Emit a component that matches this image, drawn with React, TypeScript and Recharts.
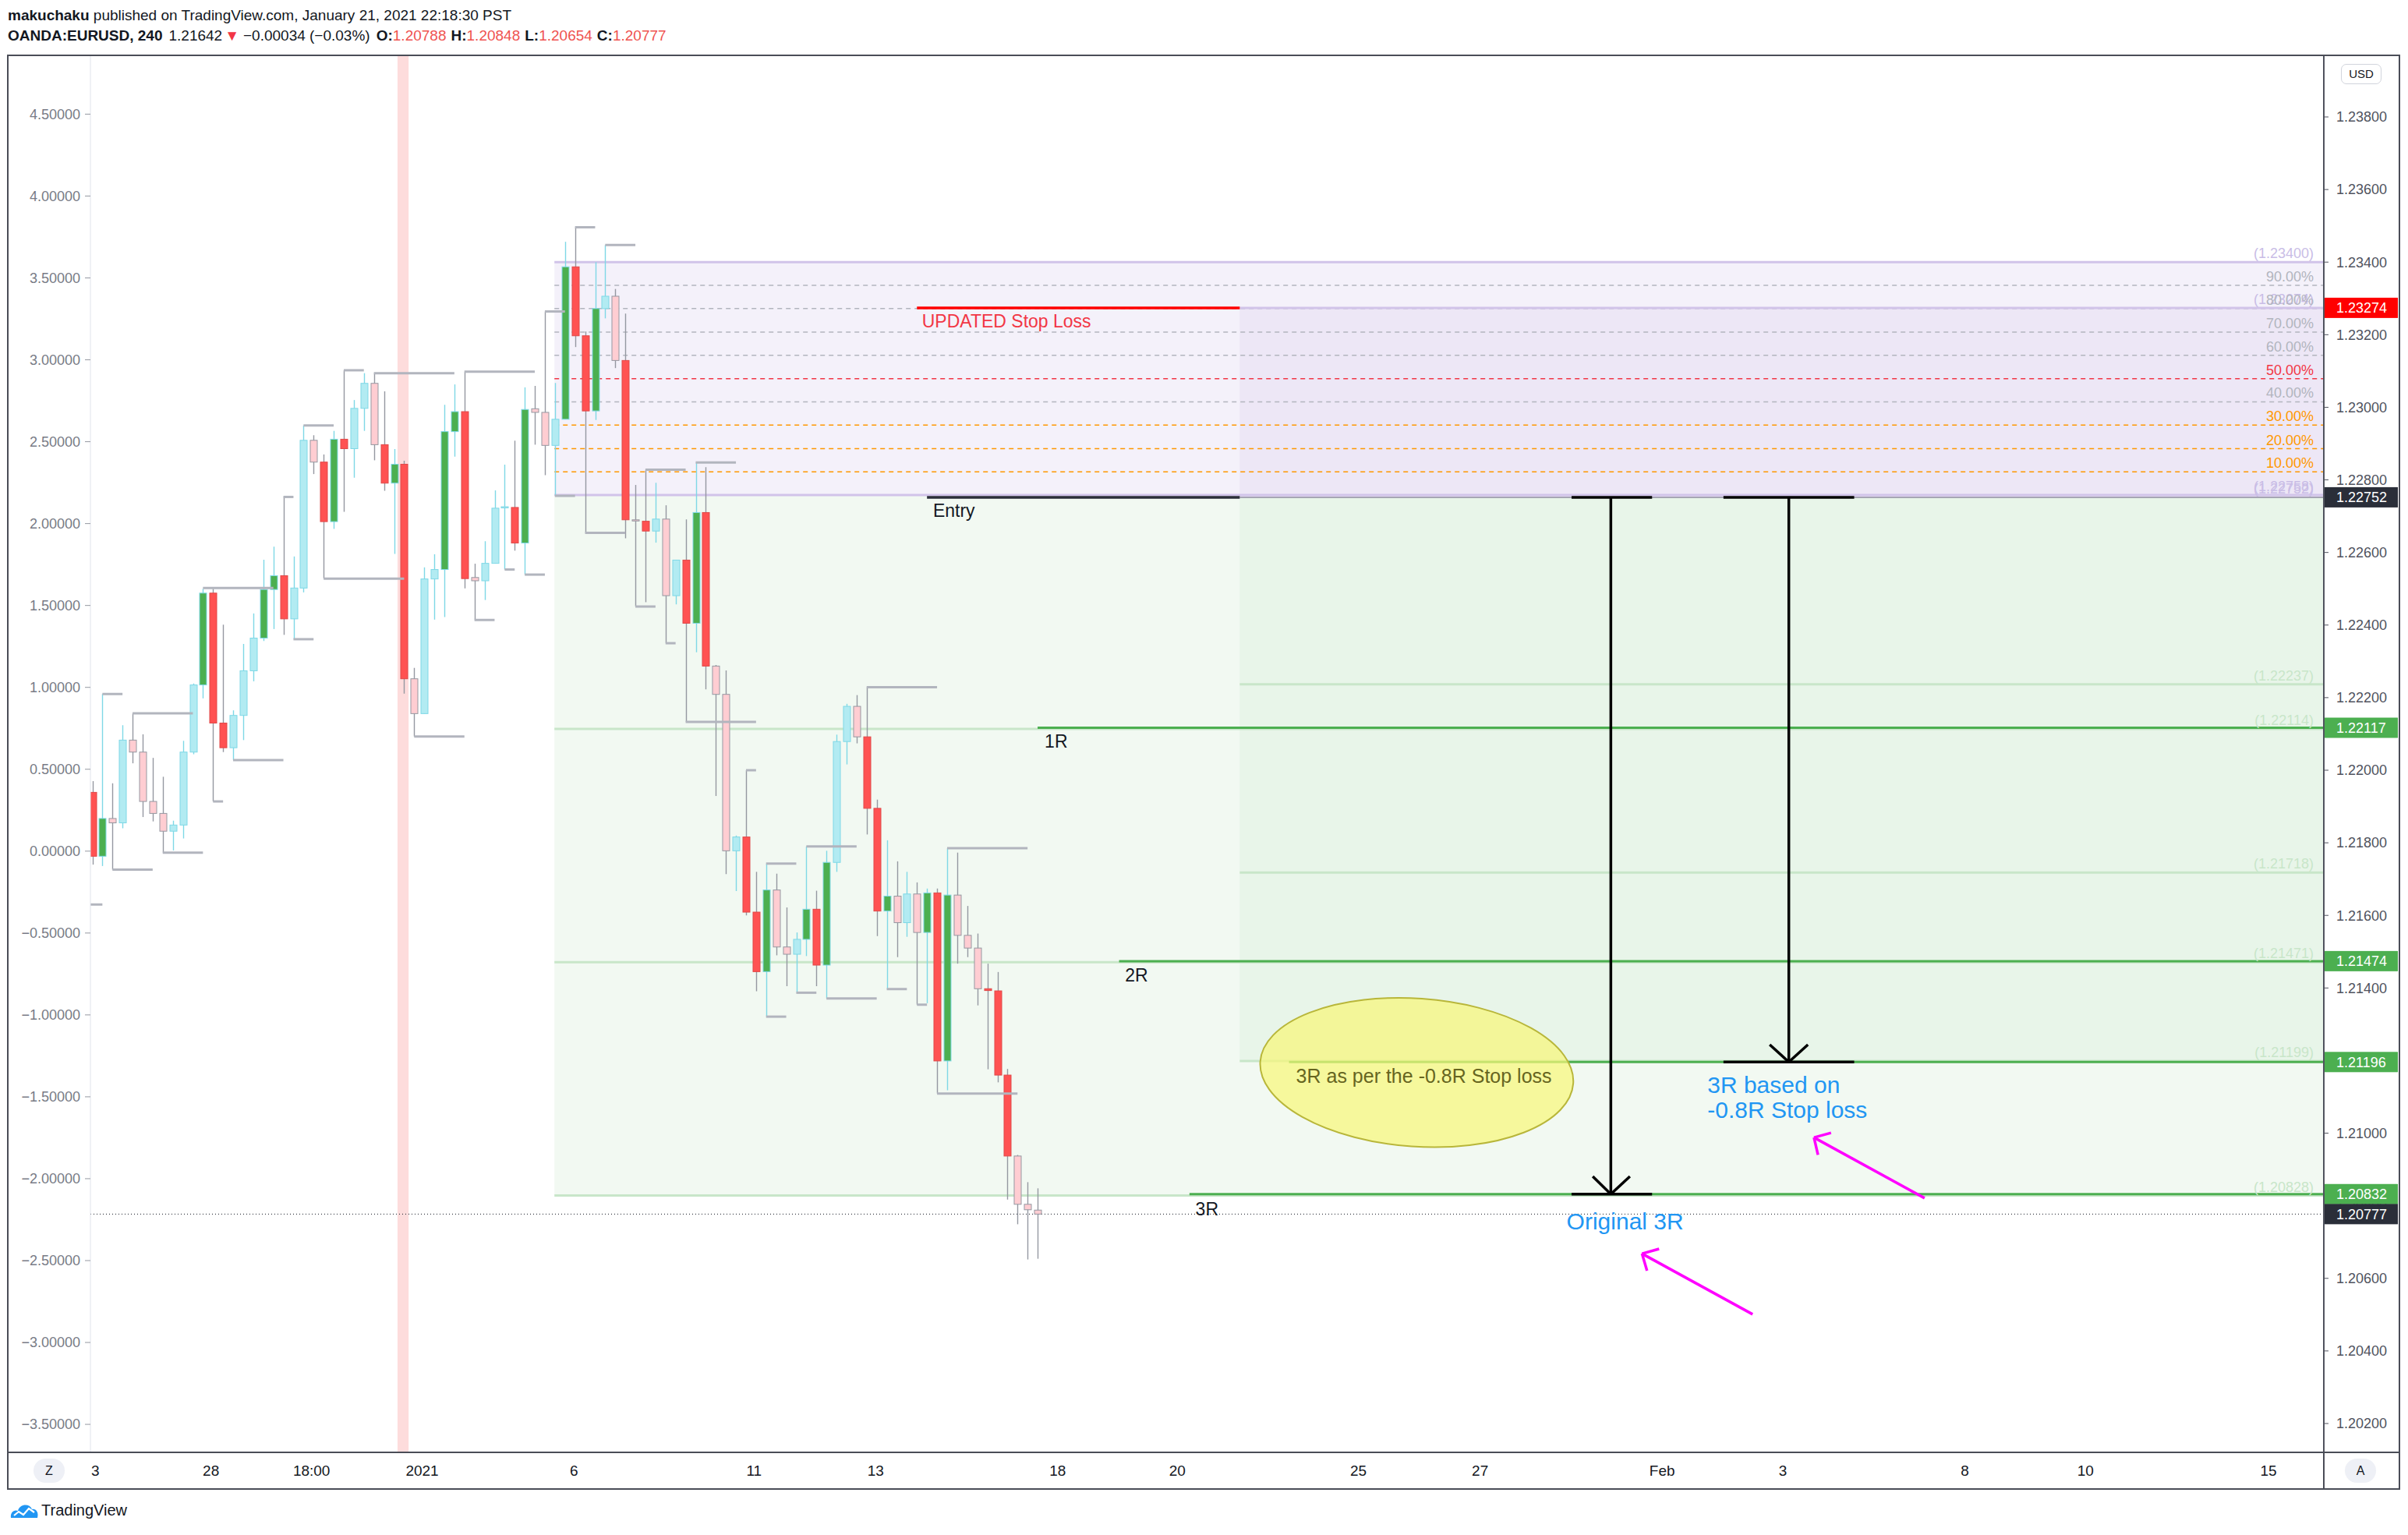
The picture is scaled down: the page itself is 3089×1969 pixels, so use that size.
import React from 'react'
import { ComposedChart, Bar, XAxis, YAxis, ReferenceLine, ReferenceArea, ReferenceDot } from 'recharts'

// 4h EURUSD candles
const opens = [
  1.21939, 1.21763, 1.21867, 1.21855, 1.22083, 1.22050, 1.21914, 1.21881, 1.21832, 1.21849,
  1.22050, 1.22235, 1.22488, 1.22130, 1.22062, 1.22151, 1.22274, 1.22364, 1.22498, 1.22536,
  1.22417, 1.22502, 1.22909, 1.22849, 1.22685, 1.22912, 1.22886, 1.22997, 1.23066, 1.22897,
  1.22791, 1.22843, 1.22252, 1.22156, 1.22527, 1.22553, 1.22933, 1.22988, 1.22531, 1.22522,
  1.22570, 1.22723, 1.22724, 1.22626, 1.22996, 1.22986, 1.22895, 1.22967, 1.23387, 1.23197,
  1.22990, 1.23272, 1.23306, 1.23129, 1.22690, 1.22686, 1.22659, 1.22692, 1.22481, 1.22579,
  1.22405, 1.22710, 1.22287, 1.22209, 1.21778, 1.21816, 1.21609, 1.21445, 1.21670, 1.21513,
  1.21493, 1.21534, 1.21617, 1.21463, 1.21746, 1.22079, 1.22176, 1.22092, 1.21895, 1.21612,
  1.21653, 1.21580, 1.21659, 1.21553, 1.21662, 1.21199, 1.21656, 1.21545, 1.21510, 1.21398,
  1.21392, 1.21160, 1.20937, 1.20804, 1.20788,
]
const highs = [
  1.21970, 1.22210, 1.21964, 1.22124, 1.22157, 1.22099, 1.22034, 1.21982, 1.21861, 1.22081,
  1.22239, 1.22500, 1.22500, 1.22401, 1.22165, 1.22348, 1.22432, 1.22580, 1.22616, 1.22753,
  1.22589, 1.22950, 1.22923, 1.22870, 1.22935, 1.23102, 1.23020, 1.23094, 1.23094, 1.23044,
  1.22885, 1.22853, 1.22282, 1.22559, 1.22595, 1.23007, 1.23063, 1.23098, 1.22569, 1.22631,
  1.22771, 1.22842, 1.22908, 1.23055, 1.23059, 1.23264, 1.23067, 1.23456, 1.23496, 1.23209,
  1.23400, 1.23447, 1.23326, 1.23258, 1.22786, 1.22828, 1.22792, 1.22730, 1.22579, 1.22691,
  1.22848, 1.22835, 1.22290, 1.22275, 1.21820, 1.22000, 1.21720, 1.21743, 1.21715, 1.21622,
  1.21553, 1.21790, 1.21668, 1.21778, 1.22098, 1.22183, 1.22207, 1.22229, 1.21919, 1.21807,
  1.21749, 1.21720, 1.21691, 1.21674, 1.21674, 1.21785, 1.21773, 1.21626, 1.21550, 1.21467,
  1.21444, 1.21177, 1.20940, 1.20865, 1.20848,
]
const lows = [
  1.21740, 1.21736, 1.21726, 1.21840, 1.22019, 1.21871, 1.21859, 1.21773, 1.21779, 1.21812,
  1.22044, 1.22198, 1.21914, 1.22050, 1.22028, 1.22083, 1.22245, 1.22356, 1.22389, 1.22373,
  1.22361, 1.22490, 1.22816, 1.22528, 1.22665, 1.22712, 1.22806, 1.22935, 1.22854, 1.22770,
  1.22596, 1.22211, 1.22093, 1.22156, 1.22415, 1.22422, 1.22864, 1.22501, 1.22414, 1.22469,
  1.22570, 1.22553, 1.22605, 1.22539, 1.22897, 1.22813, 1.22756, 1.22967, 1.23166, 1.22654,
  1.22965, 1.23245, 1.23108, 1.22639, 1.22451, 1.22463, 1.22627, 1.22350, 1.22457, 1.22133,
  1.22325, 1.22223, 1.21929, 1.21714, 1.21667, 1.21600, 1.21391, 1.21321, 1.21490, 1.21405,
  1.21387, 1.21488, 1.21405, 1.21371, 1.21720, 1.22016, 1.22074, 1.21823, 1.21543, 1.21397,
  1.21485, 1.21541, 1.21354, 1.21358, 1.21109, 1.21118, 1.21467, 1.21485, 1.21352, 1.21176,
  1.21140, 1.20817, 1.20749, 1.20652, 1.20654,
]
const closes = [
  1.21763, 1.21867, 1.21855, 1.22083, 1.22050, 1.21914, 1.21881, 1.21832, 1.21849, 1.22050,
  1.22235, 1.22488, 1.22130, 1.22062, 1.22151, 1.22274, 1.22364, 1.22498, 1.22536, 1.22417,
  1.22502, 1.22909, 1.22849, 1.22685, 1.22912, 1.22886, 1.22997, 1.23066, 1.22897, 1.22791,
  1.22843, 1.22252, 1.22156, 1.22527, 1.22553, 1.22933, 1.22988, 1.22528, 1.22522, 1.22570,
  1.22722, 1.22726, 1.22626, 1.22994, 1.22986, 1.22895, 1.22967, 1.23387, 1.23197, 1.22990,
  1.23272, 1.23306, 1.23129, 1.22690, 1.22687, 1.22659, 1.22692, 1.22481, 1.22579, 1.22405,
  1.22710, 1.22287, 1.22209, 1.21778, 1.21816, 1.21609, 1.21445, 1.21670, 1.21513, 1.21493,
  1.21534, 1.21617, 1.21463, 1.21746, 1.22079, 1.22176, 1.22092, 1.21895, 1.21612, 1.21653,
  1.21580, 1.21659, 1.21553, 1.21662, 1.21199, 1.21656, 1.21545, 1.21510, 1.21398, 1.21393,
  1.21160, 1.20937, 1.20804, 1.20789, 1.20777,
]
// 1 = solid green/red candle, 0 = pale cyan/pink candle
const strong = [
  1, 1, 0, 0, 0, 0, 0, 0, 0, 0, 0, 1, 1, 1, 0, 0, 0, 1, 1, 1,
  0, 0, 0, 1, 1, 1, 0, 0, 0, 1, 1, 1, 0, 0, 0, 1, 1, 1, 0, 0,
  0, 0, 1, 1, 0, 0, 0, 1, 1, 1, 1, 0, 0, 1, 0, 1, 0, 0, 0, 1,
  1, 1, 0, 0, 0, 1, 1, 1, 0, 0, 0, 1, 1, 1, 0, 0, 0, 1, 1, 1,
  0, 0, 0, 1, 1, 1, 0, 0, 0, 1, 1, 1, 0, 0, 0,
]

// gray pivot levels: [from bar, to bar, price]
const pivots: [number, number, number][] = [
  [-0.19, 1, 1.21630], [1, 3, 1.22210], [2, 6, 1.21726], [4, 10, 1.22157], [7, 11, 1.21773],
  [11, 18, 1.22502], [12, 13, 1.21914], [14, 19, 1.22028], [19, 20, 1.22753], [20, 22, 1.22361],
  [21, 24, 1.22950], [23, 31, 1.22528], [25, 27, 1.23102], [28, 36, 1.23094], [32, 37, 1.22093],
  [37, 44, 1.23098], [38, 40, 1.22414], [41, 42, 1.22553], [43, 45, 1.22539], [45, 47, 1.23264],
  [46, 48, 1.22756], [48, 50, 1.23496], [49, 53, 1.22654], [51, 54, 1.23447], [54, 56, 1.22451],
  [55, 59, 1.22828], [57, 58, 1.22350], [59, 66, 1.22133], [60, 64, 1.22848], [65, 66, 1.22000],
  [67, 70, 1.21743], [67, 69, 1.21321], [70, 72, 1.21387], [71, 76, 1.21790], [73, 78, 1.21371],
  [77, 84, 1.22229], [79, 81, 1.21397], [82, 83, 1.21354], [84, 92, 1.21109], [85, 93, 1.21785],
]

const priceTicks = [
  1.202, 1.204, 1.206, 1.208, 1.21, 1.212, 1.214, 1.216, 1.218, 1.22,
  1.222, 1.224, 1.226, 1.228, 1.23, 1.232, 1.234, 1.236, 1.238,
]
const leftTicks = [-3.5, -3, -2.5, -2, -1.5, -1, -0.5, 0, 0.5, 1, 1.5, 2, 2.5, 3, 3.5, 4, 4.5]
const timeTickPos = [0.3, 11.8, 21.8, 32.8, 47.9, 65.8, 77.9, 96.0, 107.9, 125.9, 138.0, 156.1, 168.1, 186.2, 198.2, 216.4]
const timeLabels = ['3', '28', '18:00', '2021', '6', '11', '13', '18', '20', '25', '27', 'Feb', '3', '8', '10', '15']

// price tags on the right scale
const tagPrices = [1.23274, 1.22752, 1.22117, 1.21474, 1.21196, 1.20832, 1.20777]
const tagColors = ['#ff0000', '#2a2e39', '#4caf50', '#4caf50', '#4caf50', '#4caf50', '#2a2e39']

// drawings
const X_MAX = 221.9
const holidayBand = [30.35, 31.45]
const fibFrom = 45.95
const fibTop = 1.234
const fibBase = 1.22758
const fibTargetLow = 1.20828
const fibLevels = [1.23336, 1.23272, 1.23207, 1.23143, 1.23079, 1.23015, 1.22951, 1.22886, 1.22822]
const fibLevelColors = ['#b2b5be', '#b2b5be', '#b2b5be', '#b2b5be', '#f23645', '#b2b5be', '#ff9800', '#ff9800', '#ff9800']
const posFrom = 114.1
const posStop = 1.23274
const posEntry = 1.22752
const posTarget = 1.21199
const rLineFrom = [94.0, 102.1, 109.1, 119.0]
const rLinePrice = [1.22117, 1.21474, 1.20832, 1.21196]
const paleLineFrom = [45.95, 45.95, 45.95, 114.1, 114.1, 114.1]
const paleLinePrice = [1.22114, 1.21471, 1.20828, 1.22237, 1.21718, 1.21199]
const stopLine: [number, number, number] = [82.0, 114.1, 1.23274]
const entryLine: [number, number, number] = [83.0, 114.1, 1.22752]
const lastPrice = 1.20777

const edgeText = ['(1.23400)', '90.00%', '(1.23274)', '80.00%', '70.00%', '60.00%', '50.00%', '40.00%', '30.00%', '20.00%', '10.00%', '(1.22758)', '(1.22752)', '(1.22237)', '(1.22114)', '(1.21718)', '(1.21471)', '(1.21199)', '(1.20828)']
const edgePrice = [1.234, 1.23336, 1.23274, 1.23272, 1.23207, 1.23143, 1.23079, 1.23015, 1.22951, 1.22886, 1.22822, 1.22758, 1.22752, 1.22237, 1.22114, 1.21718, 1.21471, 1.21199, 1.20828]
const edgeColor = ['#c9bde6', '#b2b5be', '#c9bde6', '#b2b5be', '#b2b5be', '#b2b5be', '#f23645', '#b2b5be', '#ff9800', '#ff9800', '#ff9800', '#c9bde6', '#c9bde6', '#c8e6c9', '#c8e6c9', '#c8e6c9', '#c8e6c9', '#c8e6c9', '#c8e6c9']

const noteText = ['UPDATED Stop Loss', 'Entry', '1R', '2R', '3R', '3R as per the -0.8R Stop loss', '3R based on', '-0.8R Stop loss', 'Original 3R']
const noteBar = [82.5, 83.6, 94.7, 102.7, 109.7, 119.7, 160.6, 160.6, 146.6]
const notePrice = [1.2322, 1.22698, 1.22062, 1.21418, 1.20773, 1.21139, 1.21111, 1.21042, 1.20735]
const noteColor = ['#f23645', '#131722', '#131722', '#131722', '#131722', '#66651f', '#2196f3', '#2196f3', '#2196f3']
const noteSize = [23, 23, 23, 23, 23, 25, 30, 30, 30]

const ellipseBox = { x1: 116.1, x2: 147.3, y1: 1.20963, y2: 1.21371 }

const blackArrows: [number, number, number, number][] = [
  [151.0, 1.22752, 151.0, 1.20832], [147.1, 1.22752, 155.1, 1.22752], [147.1, 1.20832, 155.1, 1.20832],
  [149.2, 1.20881, 151.0, 1.20832], [152.9, 1.20881, 151.0, 1.20832],
  [168.7, 1.22752, 168.7, 1.21196], [162.2, 1.22752, 175.2, 1.22752], [162.2, 1.21196, 175.2, 1.21196],
  [166.8, 1.21244, 168.7, 1.21196], [170.6, 1.21244, 168.7, 1.21196],
]
const pinkArrows: [number, number, number, number][] = [
  [182.2, 1.20821, 171.2, 1.20988], [172.9, 1.21001, 171.2, 1.20988], [171.6, 1.2094, 171.2, 1.20988],
  [165.1, 1.20501, 154.1, 1.20668], [155.8, 1.20681, 154.1, 1.20668], [154.6, 1.20621, 154.1, 1.20668],
]

const candles = opens.map((o, i) => ({
  i,
  o,
  h: highs[i],
  l: lows[i],
  c: closes[i],
  s: strong[i],
  range: [lows[i], highs[i]],
}))

const FONT = '"Liberation Sans", Arial, Helvetica, sans-serif'
const FRAME = '#4a4d57'

function Candle(props: any) {
  const { x, y, width, height, payload } = props
  if (!payload || height == null) return null
  const { o, h, l, c, s } = payload
  const top = Math.min(y, y + height)
  const k = Math.abs(height) / (h - l)
  const py = (p: number) => top + (h - p) * k
  const cx = Math.round(x + width / 2) + 0.5
  const up = c >= o
  const bt = py(Math.max(o, c))
  const bb = py(Math.min(o, c))
  const fill = up ? (s ? '#4caf50' : '#b2ebf2') : (s ? '#ff5252' : '#ffcdd2')
  const edge = up ? '#7fd8e6' : '#9598a1'
  return (
    <g>
      <line x1={cx} x2={cx} y1={top} y2={top + Math.abs(height)} stroke={edge} strokeWidth={1.4} />
      <rect x={cx - 4.5} y={bt} width={9} height={Math.max(1.5, bb - bt)} fill={fill} stroke={s && !up ? '#e04848' : edge} strokeWidth={1} />
    </g>
  )
}

const LeftTick = (p: any) => (
  <text x={p.x} y={p.y} dy="0.35em" textAnchor="end" fontSize={18} fill="#787b86" fontFamily={FONT}>
    {p.payload.value.toFixed(5).replace('-', '\u2212')}
  </text>
)

const RightTick = (p: any) => {
  const v = p.payload.value
  const k = tagPrices.indexOf(v)
  if (k >= 0) {
    return (
      <g>
        <rect x={p.x - 15} y={p.y - 13} width={94} height={26} fill={tagColors[k]} />
        <text x={p.x} y={p.y} dy="0.35em" fontSize={18} fill="#ffffff" fontFamily={FONT}>{v.toFixed(5)}</text>
      </g>
    )
  }
  return (
    <text x={p.x} y={p.y} dy="0.35em" fontSize={18} fill="#50535e" fontFamily={FONT}>{v.toFixed(5)}</text>
  )
}

const TimeTick = (p: any) => {
  const k = timeTickPos.indexOf(p.payload.value)
  return (
    <text x={p.x} y={p.y + 30} textAnchor="middle" fontSize={19} fill="#131722" fontFamily={FONT}>{timeLabels[k]}</text>
  )
}

const EllipseShape = (p: any) => {
  const cx = p.x + p.width / 2
  const cy = p.y + p.height / 2
  return (
    <ellipse cx={cx} cy={cy} rx={Math.abs(p.width) / 2} ry={Math.abs(p.height) / 2}
      transform={`rotate(4 ${cx} ${cy})`} fill="#f7f77a" fillOpacity={0.72} stroke="#b8b63a" strokeWidth={2} />
  )
}

const textShape = (text: string, color: string, size: number, anchor: string, dx: number, dy: number) => (p: any) => (
  <text x={p.cx + dx} y={p.cy + dy} fill={color} fontSize={size} textAnchor={anchor} fontFamily={FONT}>{text}</text>
)

function seg(key: string, x1: number, y1: number, x2: number, y2: number, stroke: string, w: number, z: number, dash?: string) {
  return (
    <ReferenceLine key={key} yAxisId="right" segment={[{ x: x1, y: y1 }, { x: x2, y: y2 }]}
      stroke={stroke} strokeWidth={w} strokeDasharray={dash} ifOverflow="visible" zIndex={z} />
  )
}

export default function App() {
  return (
    <div style={{ position: 'absolute', left: 0, top: 0, width: 3089, height: 1969, background: '#fff', fontFamily: FONT, overflow: 'hidden' }}>
      <div style={{ position: 'absolute', left: 10, top: 10, fontSize: 19, lineHeight: '20px', color: '#131722', whiteSpace: 'nowrap' }}>
        <b>makuchaku</b> published on TradingView.com, January 21, 2021 22:18:30 PST
      </div>
      <div style={{ position: 'absolute', left: 10, top: 36, fontSize: 19, lineHeight: '20px', color: '#131722', whiteSpace: 'nowrap' }}>
        <b>OANDA:EURUSD, 240</b>
        <span style={{ marginLeft: 8 }}>1.21642</span>
        <span style={{ color: '#f23645', marginLeft: 3 }}>▼</span>
        <span style={{ marginLeft: 5 }}>−0.00034 (−0.03%)</span>
        <b style={{ marginLeft: 8 }}>O:</b><span style={{ color: '#ef5350' }}>1.20788</span>
        <b style={{ marginLeft: 6 }}>H:</b><span style={{ color: '#ef5350' }}>1.20848</span>
        <b style={{ marginLeft: 6 }}>L:</b><span style={{ color: '#ef5350' }}>1.20654</span>
        <b style={{ marginLeft: 6 }}>C:</b><span style={{ color: '#ef5350' }}>1.20777</span>
      </div>

      <div style={{ position: 'absolute', left: 0, top: 0 }}>
        <ComposedChart width={3089} height={1969} data={candles} margin={{ top: 71, right: 11, bottom: 60, left: 10 }}>
          <XAxis dataKey="i" type="number" domain={[-0.19, X_MAX]} allowDataOverflow ticks={timeTickPos} interval={0}
            tick={TimeTick} tickLine={false} axisLine={false} tickSize={0} tickMargin={0} height={46} />
          <YAxis yAxisId="left" orientation="left" type="number" domain={[-3.671, 4.859]} allowDataOverflow
            ticks={leftTicks} interval={0} width={106} tickSize={7} tickMargin={6}
            tickLine={{ stroke: '#9598a1' }} axisLine={{ stroke: '#e0e3eb' }} tick={LeftTick} />
          <YAxis yAxisId="right" orientation="right" type="number" domain={[1.201205, 1.239697]} allowDataOverflow
            ticks={[...priceTicks, ...tagPrices]} interval={0} width={97} tickSize={6} tickMargin={10}
            tickLine={{ stroke: '#50535e' }} axisLine={{ stroke: '#50535e', strokeWidth: 2 }} tick={RightTick} />

          <ReferenceArea yAxisId="right" x1={holidayBand[0]} x2={holidayBand[1]} fill="#fddcdc" fillOpacity={1} ifOverflow="visible" zIndex={10} />
          <ReferenceArea yAxisId="right" x1={fibFrom} x2={X_MAX} y1={fibBase} y2={fibTop} fill="#f4f1fa" fillOpacity={1} ifOverflow="visible" zIndex={10} />
          <ReferenceArea yAxisId="right" x1={fibFrom} x2={X_MAX} y1={fibTargetLow} y2={fibBase} fill="#f2f9f2" fillOpacity={1} ifOverflow="visible" zIndex={10} />
          <ReferenceArea yAxisId="right" x1={posFrom} x2={X_MAX} y1={posEntry} y2={posStop} fill="#ede7f6" fillOpacity={1} ifOverflow="visible" zIndex={11} />
          <ReferenceArea yAxisId="right" x1={posFrom} x2={X_MAX} y1={posTarget} y2={posEntry} fill="#e8f5e9" fillOpacity={1} ifOverflow="visible" zIndex={11} />

          {fibLevels.map((p, k) => seg(`fl${k}`, fibFrom, p, X_MAX, p, fibLevelColors[k], 1.5, 150, '6 5'))}
          {paleLinePrice.map((p, k) => seg(`pl${k}`, paleLineFrom[k], p, X_MAX, p, '#c8e6c9', 3, 150))}
          {seg('lt', fibFrom, fibTop, X_MAX, fibTop, '#d1c4e9', 3, 150)}
          {seg('lb', fibFrom, fibBase, X_MAX, fibBase, '#d1c4e9', 3, 150)}
          {seg('ls', posFrom, posStop, X_MAX, posStop, '#d1c4e9', 3, 150)}
          {seg('le', posFrom, posEntry, X_MAX, posEntry, '#8f8ca0', 1.5, 150)}
          {rLinePrice.map((p, k) => seg(`rl${k}`, rLineFrom[k], p, X_MAX, p, '#4caf50', 3, 160))}
          {seg('stop', stopLine[0], stopLine[2], stopLine[1], stopLine[2], '#ff0000', 3.5, 160)}
          {seg('entry', entryLine[0], entryLine[2], entryLine[1], entryLine[2], '#2a2e39', 3.5, 160)}
          {seg('last', -0.19, lastPrice, X_MAX, lastPrice, '#131722', 1, 160, '1 3')}

          <Bar yAxisId="right" dataKey="range" barSize={9} shape={Candle} isAnimationActive={false} zIndex={300} />

          {pivots.map(([a, b, p], k) => seg(`pv${k}`, a, p, b, p, '#b2b5be', 3, 400))}

          <ReferenceArea yAxisId="right" x1={ellipseBox.x1} x2={ellipseBox.x2} y1={ellipseBox.y1} y2={ellipseBox.y2}
            shape={EllipseShape} ifOverflow="visible" zIndex={450} />
          {blackArrows.map(([a, b, c, d], k) => seg(`ba${k}`, a, b, c, d, '#000000', 3.5, 460))}
          {pinkArrows.map(([a, b, c, d], k) => seg(`pa${k}`, a, b, c, d, '#ff00ff', 3.5, 460))}

          {edgePrice.map((p, k) => (
            <ReferenceDot key={`ed${k}`} yAxisId="right" x={X_MAX} y={p} r={0} ifOverflow="visible" zIndex={620}
              shape={textShape(edgeText[k], edgeColor[k], 18, 'end', -13, -5)} />
          ))}
          {noteText.map((t, k) => (
            <ReferenceDot key={`nt${k}`} yAxisId="right" x={noteBar[k]} y={notePrice[k]} r={0} ifOverflow="visible" zIndex={640}
              shape={textShape(t, noteColor[k], noteSize[k], 'start', 0, 0)} />
          ))}
        </ComposedChart>
      </div>

      {/* frame and panel chrome */}
      <div style={{ position: 'absolute', left: 9, top: 70, width: 3070, height: 1841, border: `2px solid ${FRAME}`, boxSizing: 'border-box', pointerEvents: 'none' }} />
      <div style={{ position: 'absolute', left: 9, top: 1862, width: 3070, height: 2, background: FRAME }} />
      <div style={{ position: 'absolute', left: 2980, top: 1862, width: 2, height: 48, background: FRAME }} />
      <div style={{ position: 'absolute', left: 3003, top: 82, width: 52, height: 26, border: '1px solid #d1d4dc', borderRadius: 7, boxSizing: 'border-box', fontSize: 15, lineHeight: '24px', textAlign: 'center', color: '#131722', background: '#fff' }}>USD</div>
      <div style={{ position: 'absolute', left: 43, top: 1871, width: 40, height: 31, borderRadius: 16, background: '#eef0f6', fontSize: 16, lineHeight: '31px', textAlign: 'center', color: '#131722' }}>Z</div>
      <div style={{ position: 'absolute', left: 3008, top: 1871, width: 40, height: 31, borderRadius: 16, background: '#eef0f6', fontSize: 16, lineHeight: '31px', textAlign: 'center', color: '#131722' }}>A</div>

      <div style={{ position: 'absolute', left: 12, top: 1925, display: 'flex', alignItems: 'center' }}>
        <svg width={38} height={24} viewBox="0 0 38 24">
          <path d="M2 22 C1 15 6 11 11 13 C13 4 26 3 29 11 C34 10 38 15 36 22 Z" fill="#2196f3" />
          <path d="M6 19 L12 14 L18 18 L25 10 L32 15" stroke="#ffffff" strokeWidth={2.2} fill="none" />
        </svg>
        <span style={{ marginLeft: 3, fontSize: 20, color: '#131722' }}>TradingView</span>
      </div>
    </div>
  )
}
